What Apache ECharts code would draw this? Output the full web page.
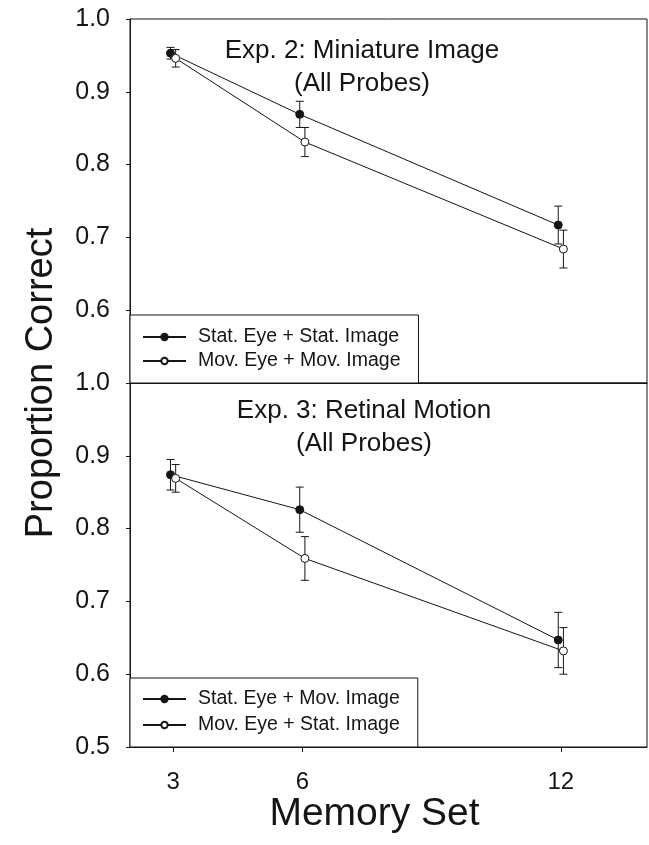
<!DOCTYPE html>
<html>
<head>
<meta charset="utf-8">
<title>Proportion correct by memory set</title>
<script src="https://cdn.jsdelivr.net/npm/echarts@6/dist/echarts.min.js"></script>
</head>
<body style="margin:0;background:#fff;">
<div id="main" style="width:649px;height:845px;"></div>
<script>
// memory set sizes (x axis)
var memorySet = [3, 6, 12];
var yTicks = [0.5, 0.6, 0.7, 0.8, 0.9, 1.0];

// Exp. 2: Miniature Image (All Probes)
var exp2StatMean = [0.953, 0.869, 0.717];
var exp2StatErr  = [0.008, 0.018, 0.026];
var exp2MovMean  = [0.946, 0.831, 0.684];
var exp2MovErr   = [0.012, 0.020, 0.026];

// Exp. 3: Retinal Motion (All Probes)
var exp3StatMean = [0.874, 0.826, 0.647];
var exp3StatErr  = [0.021, 0.031, 0.038];
var exp3MovMean  = [0.869, 0.759, 0.632];
var exp3MovErr   = [0.019, 0.030, 0.032];

var INK = '#151515';
var FONT = '"Liberation Sans", Arial, sans-serif';
var SHIFT = 0.06; // small horizontal offset between the two series

function pts(means, dx) {
    return means.map(function (v, i) { return [memorySet[i] + dx, v]; });
}
function bars(means, errs, dx) {
    return means.map(function (v, i) { return [memorySet[i] + dx, v - errs[i], v + errs[i]]; });
}

function renderBar(params, api) {
    var hi = api.coord([api.value(0), api.value(2)]);
    var lo = api.coord([api.value(0), api.value(1)]);
    var w = 4;
    var st = { stroke: INK, lineWidth: 1 };
    return {
        type: 'group',
        children: [
            { type: 'line', shape: { x1: hi[0], y1: hi[1], x2: lo[0], y2: lo[1] }, style: st },
            { type: 'line', shape: { x1: hi[0] - w, y1: hi[1], x2: hi[0] + w, y2: hi[1] }, style: st },
            { type: 'line', shape: { x1: lo[0] - w, y1: lo[1], x2: lo[0] + w, y2: lo[1] }, style: st }
        ]
    };
}

function errSeries(idx, data) {
    return {
        type: 'custom',
        xAxisIndex: idx, yAxisIndex: idx,
        renderItem: renderBar,
        encode: { x: 0, y: [1, 2] },
        data: data,
        z: 1,
        silent: true
    };
}

function lineSeries(idx, name, data, filled) {
    return {
        name: name,
        type: 'line',
        xAxisIndex: idx, yAxisIndex: idx,
        data: data,
        symbol: 'circle',
        symbolSize: 8,
        lineStyle: { color: INK, width: 1 },
        itemStyle: filled
            ? { color: INK, borderColor: INK, borderWidth: 1 }
            : { color: '#fff', borderColor: INK, borderWidth: 1 },
        z: 3
    };
}

function xAx(idx, showLabels) {
    return {
        type: 'value', gridIndex: idx, min: 2, max: 14,
        axisLine: { show: true, lineStyle: { color: INK, width: 1 } },
        axisTick: { show: showLabels, customValues: memorySet, length: 5, lineStyle: { color: INK } },
        axisLabel: { show: showLabels, customValues: memorySet, fontSize: 24, fontFamily: FONT, color: INK, margin: 23 },
        splitLine: { show: false },
        name: showLabels ? 'Memory Set' : '',
        nameLocation: 'middle',
        nameGap: 44,
        nameTextStyle: { fontSize: 39, fontFamily: FONT, color: INK, padding: [0, 28, 0, 0] }
    };
}

function yAx(idx, showMin) {
    return {
        type: 'value', gridIndex: idx, min: yTicks[0], max: yTicks[yTicks.length - 1], interval: 0.1,
        axisLine: { show: true, lineStyle: { color: INK, width: 1 } },
        axisTick: { show: true, length: 4, lineStyle: { color: INK } },
        axisLabel: { showMinLabel: showMin, fontSize: 25, fontFamily: FONT, color: INK, margin: 20,
            formatter: function (v) { return v.toFixed(1); } },
        splitLine: { show: false }
    };
}

function legendBox(top, names, gap, pad) {
    return {
        orient: 'vertical', left: 130, top: top,
        data: names,
        itemWidth: 43, itemHeight: 8, itemGap: gap,
        padding: pad,
        backgroundColor: '#fff',
        borderColor: INK, borderWidth: 1, borderRadius: 0,
        textStyle: { fontSize: 19.5, fontFamily: FONT, color: INK, lineHeight: 20, padding: [0, 0, 0, 7] },
        selectedMode: false
    };
}

var myChart = echarts.init(document.getElementById('main'));

var option = {
    backgroundColor: '#fff',
    animation: false,
    title: [{
        text: 'Exp. 2: Miniature Image\n(All Probes)',
        left: 362, top: 34, textAlign: 'center', padding: 0,
        textStyle: { fontSize: 26, fontWeight: 'normal', fontFamily: FONT, color: INK, lineHeight: 33, align: 'center' }
    }, {
        text: 'Exp. 3: Retinal Motion\n(All Probes)',
        left: 364, top: 394, textAlign: 'center', padding: 0,
        textStyle: { fontSize: 26, fontWeight: 'normal', fontFamily: FONT, color: INK, lineHeight: 33, align: 'center' }
    }],
    legend: [
        legendBox(315, ['Stat. Eye + Stat. Image', 'Mov. Eye + Mov. Image'], 4, [12, 18, 12, 12]),
        legendBox(678, ['Stat. Eye + Mov. Image', 'Mov. Eye + Stat. Image'], 6, [11, 18, 12, 12])
    ],
    grid: [
        { left: 130, top: 19, width: 517, height: 364, show: true, borderColor: INK, borderWidth: 1 },
        { left: 130, top: 383, width: 517, height: 364, show: true, borderColor: INK, borderWidth: 1 }
    ],
    xAxis: [xAx(0, false), xAx(1, true)],
    yAxis: [yAx(0, false), yAx(1, true)],
    graphic: [{
        type: 'text',
        x: 42, y: 383,
        rotation: Math.PI / 2,
        style: {
            text: 'Proportion Correct',
            fontSize: 38, fontFamily: FONT, fill: INK,
            align: 'center', verticalAlign: 'middle'
        }
    }],
    series: [
        errSeries(0, bars(exp2StatMean, exp2StatErr, -SHIFT)),
        errSeries(0, bars(exp2MovMean, exp2MovErr, SHIFT)),
        lineSeries(0, 'Stat. Eye + Stat. Image', pts(exp2StatMean, -SHIFT), true),
        lineSeries(0, 'Mov. Eye + Mov. Image', pts(exp2MovMean, SHIFT), false),
        errSeries(1, bars(exp3StatMean, exp3StatErr, -SHIFT)),
        errSeries(1, bars(exp3MovMean, exp3MovErr, SHIFT)),
        lineSeries(1, 'Stat. Eye + Mov. Image', pts(exp3StatMean, -SHIFT), true),
        lineSeries(1, 'Mov. Eye + Stat. Image', pts(exp3MovMean, SHIFT), false)
    ]
};

myChart.setOption(option);
</script>
</body>
</html>
